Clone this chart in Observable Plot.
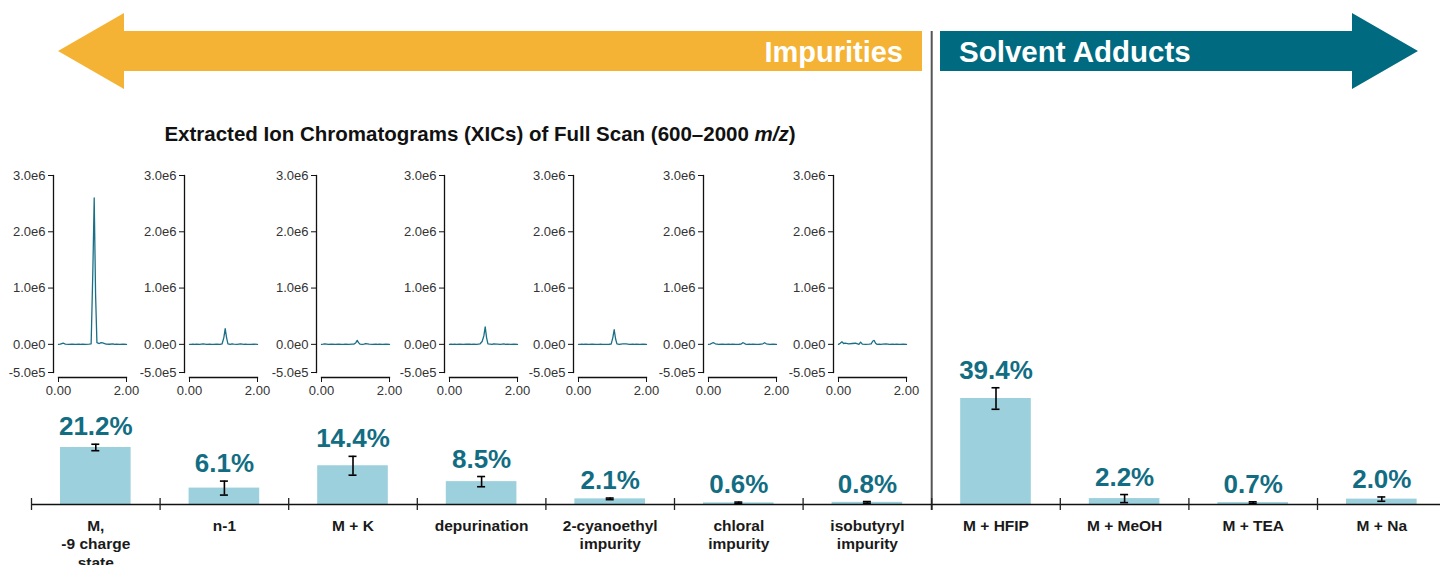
<!DOCTYPE html>
<html>
<head>
<meta charset="utf-8">
<script src="https://cdn.jsdelivr.net/npm/d3@7"></script>
<script src="https://cdn.jsdelivr.net/npm/@observablehq/plot@0.6"></script>
<style>
  html, body { margin: 0; padding: 0; background: #fff; }
  #root { position: relative; width: 1440px; height: 565px; overflow: hidden; font-family: "Liberation Sans", Arial, sans-serif; }
  #root svg { position: absolute; overflow: visible; }
</style>
</head>
<body>
<div id="root"></div>
<script>
// ---------- data ----------
const categories = ["M,\n-9 charge\nstate", "n-1", "M + K", "depurination", "2-cyanoethyl\nimpurity",
  "chloral\nimpurity", "isobutyryl\nimpurity", "M + HFIP", "M + MeOH", "M + TEA", "M + Na"];
const percents = [21.2, 6.1, 14.4, 8.5, 2.1, 0.6, 0.8, 39.4, 2.2, 0.7, 2.0];
const errors   = [1.2, 2.6, 3.5, 1.9, 0.3, 0.3, 0.3, 4.0, 1.5, 0.3, 0.8];
const groupLabels = ["Impurities", "Solvent Adducts"];
const chartTitle = "Extracted Ion Chromatograms (XICs) of Full Scan (600–2000 ";
const chartTitleItalic = "m/z";

const xicYTicks = [-5e5, 0, 1e6, 2e6, 3e6];
const xicXTicks = [0, 2];
const xicTime = [0, 0.05, 0.1, 0.15, 0.2, 0.3, 0.4, 0.5, 0.6, 0.65, 0.7, 0.8, 0.9, 0.96, 1.01,
  1.05, 1.09, 1.13, 1.2, 1.25, 1.3, 1.4, 1.5, 1.6, 1.65, 1.7, 1.8, 1.9, 2.0];
const xicM   = [0, 5e3, 1.5e4, 2e4, 5e3, 0, 2e3, 0, 3e3, 0, 2e3, 0, 5e3, 1e4, 1.3e6, 2.6e6, 9e5, 3e4, 1.5e4, 3e4, 2.5e4, 5e3, 2e3, 1e4, 0, 3e3, 0, 2e3, 0];
const xicN1  = [0, 0, 5e3, 0, 3e3, 0, 1e4, 0, 2e3, 0, 0, 3e3, 0, 1e4, 1.2e5, 2.8e5, 1.2e5, 1e4, 0, 1e4, 5e3, 0, 1e4, 0, 2e3, 0, 0, 3e3, 0];
const xicK   = [0, 3e3, 1e4, 5e3, 0, 2e3, 0, 3e3, 0, 0, 2e3, 0, 3e3, 5e3, 3e4, 7e4, 3e4, 5e3, 0, 5e3, 1.5e4, 3e3, 0, 5e3, 0, 2e3, 0, 3e3, 0];
const xicDep = [0, 5e3, 0, 3e3, 0, 5e3, 0, 2e3, 3e3, 0, 4e3, 0, 1e4, 5e4, 1.5e5, 3.1e5, 1.2e5, 1e4, 5e3, 0, 1e4, 5e3, 0, 8e3, 0, 3e3, 0, 5e3, 0];
const xicCy  = [0, 0, 3e3, 0, 2e3, 0, 3e3, 0, 0, 2e3, 0, 0, 2e3, 5e3, 1.2e5, 2.6e5, 1e5, 1e4, 0, 5e3, 1e4, 8e3, 0, 5e3, 0, 2e3, 0, 3e3, 0];
const xicCl  = [0, 5e3, 2e4, 3e4, 1e4, 0, 3e3, 0, 2e3, 0, 3e3, 0, 2e3, 5e3, 3e4, 2e4, 5e3, 0, 2e3, 0, 3e3, 0, 2e3, 1e4, 3e4, 1e4, 0, 2e3, 0];
const xicIso = [0, 2e4, 4.5e4, 1.5e4, 2e4, 1e4, 1.5e4, 2e4, 0, 4e4, 5e3, 0, 3e3, 1e4, 6e4, 7e4, 2e4, 0, 3e3, 0, 5e3, 1e4, 0, 3e3, 0, 2e3, 0, 3e3, 0];
const xicSeries = [xicM, xicN1, xicK, xicDep, xicCy, xicCl, xicIso];

// ---------- styles ----------
const FONT = '"Liberation Sans", Arial, Helvetica, sans-serif';
const TEAL = "#006a80";
const LABEL_TEAL = "#126d83";
const YELLOW = "#f5b335";
const BAR = "#9bd0dc";
const LINE = "#1a6f86";

const root = document.getElementById("root");
const idx = d3.range(categories.length);

// ---------- main bar chart ----------
const pxPerPct = 2.69;
const main = Plot.plot({
  width: 1440, height: 565,
  marginTop: 31, marginBottom: 61, marginLeft: 31, marginRight: 0,
  x: {domain: [0, categories.length], range: [31, 1445.6], axis: null},
  y: {domain: [0, 40], range: [504, 504 - 40 * pxPerPct], axis: null},
  style: {fontFamily: FONT, background: "transparent", overflow: "visible"},
  marks: [
    Plot.rect(idx, {x1: i => i, x2: i => i + 1, y1: 0, y2: i => percents[i], fill: BAR, insetLeft: 29, insetRight: 29}),
    Plot.ruleX([7], {stroke: "#555", strokeWidth: 2, insetBottom: -6}),
    Plot.ruleY([0], {stroke: "#111", strokeWidth: 1.6}),
    Plot.ruleX(d3.range(0, categories.length), {x: d => d, y1: 0, y2: 0, insetTop: 6, insetBottom: 6, stroke: "#222", strokeWidth: 1.3}),
    Plot.ruleX(idx, {x: i => i + 0.5, y1: i => percents[i] - errors[i], y2: i => percents[i] + errors[i], stroke: "#000", strokeWidth: 1.6}),
    Plot.ruleY(idx, {x1: i => i + 0.5, x2: i => i + 0.5, y: i => percents[i] + errors[i], insetLeft: -4, insetRight: -4, stroke: "#000", strokeWidth: 1.6}),
    Plot.ruleY(idx, {x1: i => i + 0.5, x2: i => i + 0.5, y: i => percents[i] - errors[i], insetLeft: -4, insetRight: -4, stroke: "#000", strokeWidth: 1.6}),
    Plot.text(idx, {x: i => i + 0.5, y: i => percents[i] + errors[i], text: i => percents[i].toFixed(1) + "%",
      dy: -9, lineAnchor: "bottom", fill: LABEL_TEAL, fontSize: 26, fontWeight: "bold"}),
    Plot.text(idx, {x: i => i + 0.5, y: 0, text: i => categories[i], lineAnchor: "top", dy: 13,
      lineHeight: 1.2, fill: "#1a1a1a", fontSize: 15.5, fontWeight: "bold"})
  ]
});
main.style.left = "0px"; main.style.top = "0px";
root.appendChild(main);

// ---------- XIC small multiples ----------
const fmtE = v => d3.format(".1e")(v).replace("+", "").replace("−", "-");
const axisXpos = [53, 184, 316, 444, 573, 703, 833];
xicSeries.forEach((vals, k) => {
  const p = Plot.plot({
    width: 130, height: 240,
    marginLeft: 45, marginRight: 12, marginTop: 15, marginBottom: 23,
    x: {domain: [0, 2], insetLeft: 5, axis: null},
    y: {domain: [-5e5, 3e6], insetBottom: 5, axis: null},
    style: {fontFamily: FONT, fontSize: "13px", color: "#333", background: "transparent", overflow: "visible"},
    marks: [
      Plot.frame({anchor: "left", insetBottom: 5, stroke: "#111", strokeWidth: 1.3}),
      Plot.frame({anchor: "bottom", insetLeft: 5, stroke: "#111", strokeWidth: 1.3}),
      Plot.axisY(xicYTicks, {tickSize: 5, tickPadding: 3, tickFormat: fmtE, label: null, fontSize: 13, stroke: "#111"}),
      Plot.axisX(xicXTicks, {tickSize: 5, tickPadding: 3, tickFormat: d3.format(".2f"), label: null, fontSize: 13, stroke: "#111"}),
      Plot.line(xicTime, {x: d => d, y: (d, i) => vals[i], stroke: LINE, strokeWidth: 1.3})
    ]
  });
  p.style.left = (axisXpos[k] - 45) + "px";
  p.style.top = "160px";
  root.appendChild(p);
});

// ---------- arrows + title overlay ----------
const ov = d3.select(root).append("svg")
  .attr("width", 1440).attr("height", 565)
  .style("left", "0px").style("top", "0px")
  .style("pointer-events", "none");
ov.append("polygon").attr("fill", YELLOW)
  .attr("points", "58,51 124,13 124,31 922,31 922,71 124,71 124,89");
ov.append("polygon").attr("fill", TEAL)
  .attr("points", "940,31 1352,31 1352,13 1418,51 1352,89 1352,71 940,71");
ov.append("text").attr("x", 903).attr("y", 62).attr("text-anchor", "end")
  .attr("fill", "#fff").attr("font-family", FONT).attr("font-weight", "bold").attr("font-size", 29)
  .text(groupLabels[0]);
ov.append("text").attr("x", 959).attr("y", 62).attr("text-anchor", "start")
  .attr("fill", "#fff").attr("font-family", FONT).attr("font-weight", "bold").attr("font-size", 29.5)
  .text(groupLabels[1]);
const t = ov.append("text").attr("x", 480).attr("y", 141).attr("text-anchor", "middle")
  .attr("fill", "#111").attr("font-family", FONT).attr("font-weight", "bold").attr("font-size", 20.5);
t.append("tspan").text(chartTitle);
t.append("tspan").attr("font-style", "italic").text(chartTitleItalic);
t.append("tspan").text(")");
</script>
</body>
</html>
